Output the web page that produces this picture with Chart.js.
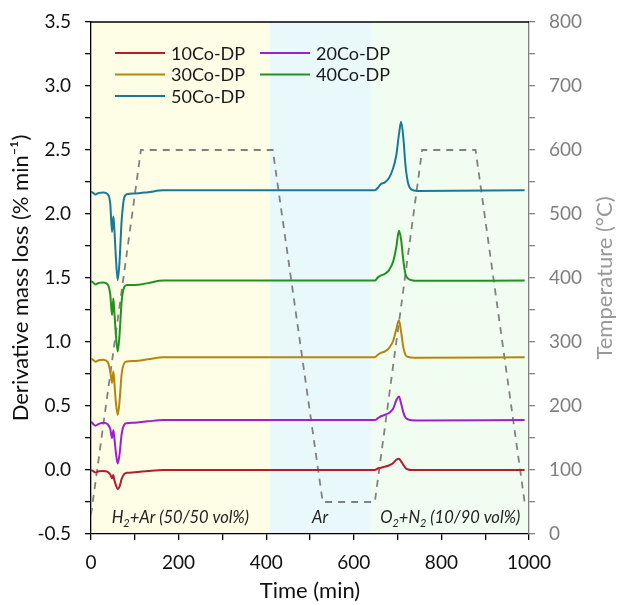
<!DOCTYPE html>
<html>
<head>
<meta charset="utf-8">
<script src="https://cdn.jsdelivr.net/npm/chart.js@4.4.1/dist/chart.umd.min.js"></script>
<style>
  html, body { margin: 0; padding: 0; background: #fff; }
  #wrap { width: 618px; height: 605px; }
</style>
</head>
<body>
<div id="wrap"><canvas id="tgaChart" width="618" height="605"></canvas></div>
<script>
// DTG curves (all on one time grid, min)
const timeMin = [0, 5, 10, 18, 28, 38, 44, 48, 51, 53, 57, 61, 65, 70, 76, 82, 100, 130, 165, 400,
                 648, 655, 662, 670, 680, 690, 697, 703, 708, 713, 718, 724, 732, 745, 990];

const co10 = [0.000, -0.008, -0.020, -0.010, -0.008, -0.015, -0.035, -0.065, -0.040, -0.075, -0.120, -0.150, -0.130, -0.070, -0.030, -0.022, -0.018, -0.008, 0.000, 0.000,
              0.000, 0.012, 0.018, 0.025, 0.035, 0.055, 0.080, 0.088, 0.068, 0.040, 0.016, 0.004, 0.000, 0.000, 0.000];
const co20 = [0.377, 0.360, 0.346, 0.360, 0.370, 0.358, 0.320, 0.250, 0.310, 0.260, 0.130, 0.050, 0.120, 0.280, 0.355, 0.365, 0.370, 0.380, 0.390, 0.390,
              0.390, 0.405, 0.420, 0.430, 0.445, 0.480, 0.545, 0.575, 0.520, 0.450, 0.410, 0.395, 0.388, 0.387, 0.390];
const co30 = [0.873, 0.860, 0.846, 0.858, 0.862, 0.845, 0.770, 0.680, 0.770, 0.700, 0.520, 0.430, 0.530, 0.750, 0.835, 0.848, 0.852, 0.865, 0.880, 0.880,
              0.880, 0.900, 0.915, 0.925, 0.950, 1.010, 1.100, 1.170, 1.080, 0.960, 0.900, 0.883, 0.878, 0.876, 0.880];
const co40 = [1.475, 1.465, 1.450, 1.462, 1.465, 1.450, 1.370, 1.210, 1.340, 1.250, 1.050, 0.925, 1.050, 1.320, 1.430, 1.445, 1.445, 1.460, 1.480, 1.480,
              1.480, 1.505, 1.520, 1.530, 1.560, 1.630, 1.740, 1.870, 1.800, 1.640, 1.530, 1.495, 1.483, 1.478, 1.480];
const co50 = [2.175, 2.165, 2.152, 2.165, 2.168, 2.155, 2.080, 1.860, 1.980, 1.900, 1.650, 1.485, 1.620, 1.950, 2.130, 2.155, 2.160, 2.170, 2.185, 2.185,
              2.185, 2.205, 2.235, 2.245, 2.280, 2.360, 2.460, 2.620, 2.720, 2.600, 2.380, 2.240, 2.190, 2.180, 2.185];

// temperature program
const tempTime = [0, 114, 415, 529, 648, 756, 878, 990];
const tempC = [30, 600, 600, 50, 50, 600, 600, 50];

// gas atmosphere phases
const phaseStart = [0, 409, 639];
const phaseEnd = [409, 639, 1000];
const phaseColors = ['#fefde6', '#e9f8fb', '#f2fdf2'];
const phaseLabels = [
  [['H', 0], ['2', 1], ['+Ar (50/50 vol%)', 0]],
  [['Ar', 0]],
  [['O', 0], ['2', 1], ['+N', 0], ['2', 1], [' (10/90 vol%)', 0]]
];
const phaseLabelX = [204, 523, 820];

const seriesNames = ['10Co-DP', '20Co-DP', '30Co-DP', '40Co-DP', '50Co-DP'];
const seriesColors = ['#b71c2c', '#9d1fcf', '#b5850c', '#23911e', '#1b7896'];
const seriesData = [co10, co20, co30, co40, co50];

const FONT = 'Lato, "Open Sans", sans-serif';

const pts = (xs, ys) => xs.map((x, i) => ({ x: x, y: ys[i] }));

let datasets = seriesData.map((arr, i) => ({
  label: seriesNames[i],
  data: pts(timeMin, arr),
  borderColor: seriesColors[i],
  borderWidth: 2,
  pointRadius: 0,
  cubicInterpolationMode: 'monotone',
  yAxisID: 'y'
}));
datasets.push({
  label: 'Temperature',
  data: pts(tempTime, tempC),
  borderColor: '#808080',
  borderWidth: 1.8,
  borderDash: [7, 6],
  pointRadius: 0,
  tension: 0,
  yAxisID: 'y2'
});

// no extra label padding, so the plot box stays where the reference has it
const fixV = w => s => { s.width = w; s.paddingTop = 0; s.paddingBottom = 0; };

const bandsPlugin = {
  id: 'bands',
  beforeDraw(chart) {
    const ctx = chart.ctx, a = chart.chartArea, xs = chart.scales.x;
    ctx.save();
    ctx.fillStyle = '#fff';
    ctx.fillRect(0, 0, chart.width, chart.height);
    phaseStart.forEach((s, i) => {
      const x0 = xs.getPixelForValue(s), x1 = xs.getPixelForValue(phaseEnd[i]);
      ctx.fillStyle = phaseColors[i];
      ctx.fillRect(x0, a.top, x1 - x0, a.bottom - a.top);
    });
    ctx.restore();
  },
  afterDraw(chart) {
    const ctx = chart.ctx, a = chart.chartArea, xs = chart.scales.x, ys = chart.scales.y;
    const midY = (a.top + a.bottom) / 2;
    ctx.save();
    // top frame line
    ctx.strokeStyle = '#000';
    ctx.lineWidth = 1.3;
    ctx.beginPath();
    ctx.moveTo(a.left, a.top);
    ctx.lineTo(a.right, a.top);
    ctx.stroke();

    // axis titles
    ctx.textAlign = 'center';
    ctx.textBaseline = 'middle';
    ctx.font = '22px ' + FONT;
    ctx.fillStyle = '#111';
    ctx.fillText('Time (min)', (a.left + a.right) / 2, 591);
    ctx.save();
    ctx.translate(21, midY);
    ctx.rotate(-Math.PI / 2);
    ctx.fillText('Derivative mass loss (% min\u207B\u00B9)', 0, 0);
    ctx.restore();
    ctx.save();
    ctx.translate(605, midY);
    ctx.rotate(-Math.PI / 2);
    ctx.fillStyle = '#999';
    ctx.fillText('Temperature (\u00B0C)', 0, 0);
    ctx.restore();

    // phase labels with subscripts
    ctx.textAlign = 'left';
    ctx.fillStyle = '#222';
    ctx.textBaseline = 'alphabetic';
    const yBase = ys.getPixelForValue(-0.375) + 5;
    phaseLabels.forEach((parts, i) => {
      const fMain = 'italic 16.5px ' + FONT, fSub = 'italic 11px ' + FONT;
      let w = 0;
      parts.forEach(p => { ctx.font = p[1] ? fSub : fMain; w += ctx.measureText(p[0]).width; });
      let x = xs.getPixelForValue(phaseLabelX[i]) - w / 2;
      parts.forEach(p => {
        ctx.font = p[1] ? fSub : fMain;
        ctx.fillText(p[0], x, yBase + (p[1] ? 4 : 0));
        x += ctx.measureText(p[0]).width;
      });
    });

    // legend inside plot, two columns
    ctx.font = '18px ' + FONT;
    ctx.textBaseline = 'middle';
    const colX = [115, 260], rowY = [53, 74.5, 96];
    seriesNames.forEach((name, i) => {
      const cx = colX[i % 2], cy = rowY[Math.floor(i / 2)];
      ctx.strokeStyle = seriesColors[i];
      ctx.lineWidth = 2;
      ctx.beginPath();
      ctx.moveTo(cx, cy);
      ctx.lineTo(cx + 50, cy);
      ctx.stroke();
      ctx.fillStyle = '#1a1a1a';
      ctx.fillText(name, cx + 56, cy + 1);
    });
    ctx.restore();
  }
};

new Chart(document.getElementById('tgaChart').getContext('2d'), {
  type: 'line',
  data: { datasets: datasets },
  plugins: [bandsPlugin],
  options: {
    responsive: false,
    animation: false,
    layout: { padding: { top: 22, left: 0, right: 0, bottom: 0 } },
    plugins: { legend: { display: false }, tooltip: { enabled: false } },
    scales: {
      x: {
        type: 'linear',
        min: 0, max: 1000,
        afterFit: s => { s.height = 71; s.paddingLeft = 0; s.paddingRight = 0; },
        border: { color: '#000', width: 1.3 },
        grid: { drawOnChartArea: false, drawTicks: true, tickLength: 6, color: '#000', lineWidth: 1.3 },
        ticks: {
          stepSize: 100, autoSkip: false, maxRotation: 0, color: '#111', padding: 11,
          font: { family: FONT, size: 19 },
          callback: v => (v % 200 === 0 ? String(v) : '')
        }
      },
      y: {
        position: 'left',
        min: -0.5, max: 3.5,
        afterFit: fixV(91),
        border: { color: '#000', width: 1.3 },
        grid: { drawOnChartArea: false, drawTicks: true, tickLength: 6, color: '#000', lineWidth: 1.3 },
        ticks: {
          stepSize: 0.25, autoSkip: false, color: '#111', padding: 14,
          font: { family: FONT, size: 19 },
          callback: v => (Math.abs(v * 2 - Math.round(v * 2)) < 1e-6 ? v.toFixed(1) : '')
        }
      },
      y2: {
        position: 'right',
        min: 0, max: 800,
        afterFit: fixV(89),
        border: { color: '#808080', width: 1.3 },
        grid: { drawOnChartArea: false, drawTicks: true, tickLength: 6, color: '#808080', lineWidth: 1.3 },
        ticks: {
          stepSize: 50, autoSkip: false, color: '#7f7f7f', padding: 14,
          font: { family: FONT, size: 19 },
          callback: v => (v % 100 === 0 ? String(v) : '')
        }
      }
    }
  }
});
</script>
</body>
</html>
